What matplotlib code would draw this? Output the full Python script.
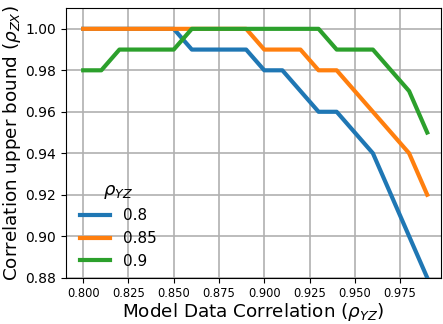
import matplotlib
matplotlib.use("Agg")
import matplotlib.pyplot as plt
import numpy as np

rho_yz = [0.80, 0.81, 0.82, 0.83, 0.84, 0.85, 0.86, 0.87, 0.88, 0.89,
          0.90, 0.91, 0.92, 0.93, 0.94, 0.95, 0.96, 0.97, 0.98, 0.99]

# upper bound on rho_zx for each data correlation
bound_08 = [1.00, 1.00, 1.00, 1.00, 1.00, 1.00, 0.99, 0.99, 0.99, 0.99,
            0.98, 0.98, 0.97, 0.96, 0.96, 0.95, 0.94, 0.92, 0.90, 0.88]
bound_085 = [1.00, 1.00, 1.00, 1.00, 1.00, 1.00, 1.00, 1.00, 1.00, 1.00,
             0.99, 0.99, 0.99, 0.98, 0.98, 0.97, 0.96, 0.95, 0.94, 0.92]
bound_09 = [0.98, 0.98, 0.99, 0.99, 0.99, 0.99, 1.00, 1.00, 1.00, 1.00,
            1.00, 1.00, 1.00, 1.00, 0.99, 0.99, 0.99, 0.98, 0.97, 0.95]

labels = ['0.8', '0.85', '0.9']

fig = plt.figure(figsize=(4.43, 3.24), dpi=100)
ax = fig.add_axes([0.149, 0.143, 0.846, 0.832])

for y, lab in zip([bound_08, bound_085, bound_09], labels):
    ax.plot(rho_yz, y, lw=3, label=lab)

ax.set_ylim(0.88, 1.01)
ax.set_xlim(0.7905, 0.9975)
ax.set_yticks(np.arange(0.88, 1.001, 0.02))
ax.set_xticks(np.arange(0.800, 0.976, 0.025))
ax.tick_params(axis='x', labelsize=8.3)
ax.tick_params(axis='y', labelsize=10)
ax.grid(lw=1.2)
ax.set_axisbelow(True)

ax.set_xlabel(r'Model Data Correlation ($\rho_{YZ}$)', fontsize=13.2, labelpad=0.5)
ax.set_ylabel(r'Correlation upper bound ($\rho_{ZX}$)', fontsize=13.2, labelpad=1.5)
ax.legend(title=r'$\rho_{YZ}$', loc='lower left', bbox_to_anchor=(0.0, -0.018),
          frameon=False, fontsize=11, title_fontsize=13, handlelength=2.0)

fig.savefig('out.png', dpi=100)
